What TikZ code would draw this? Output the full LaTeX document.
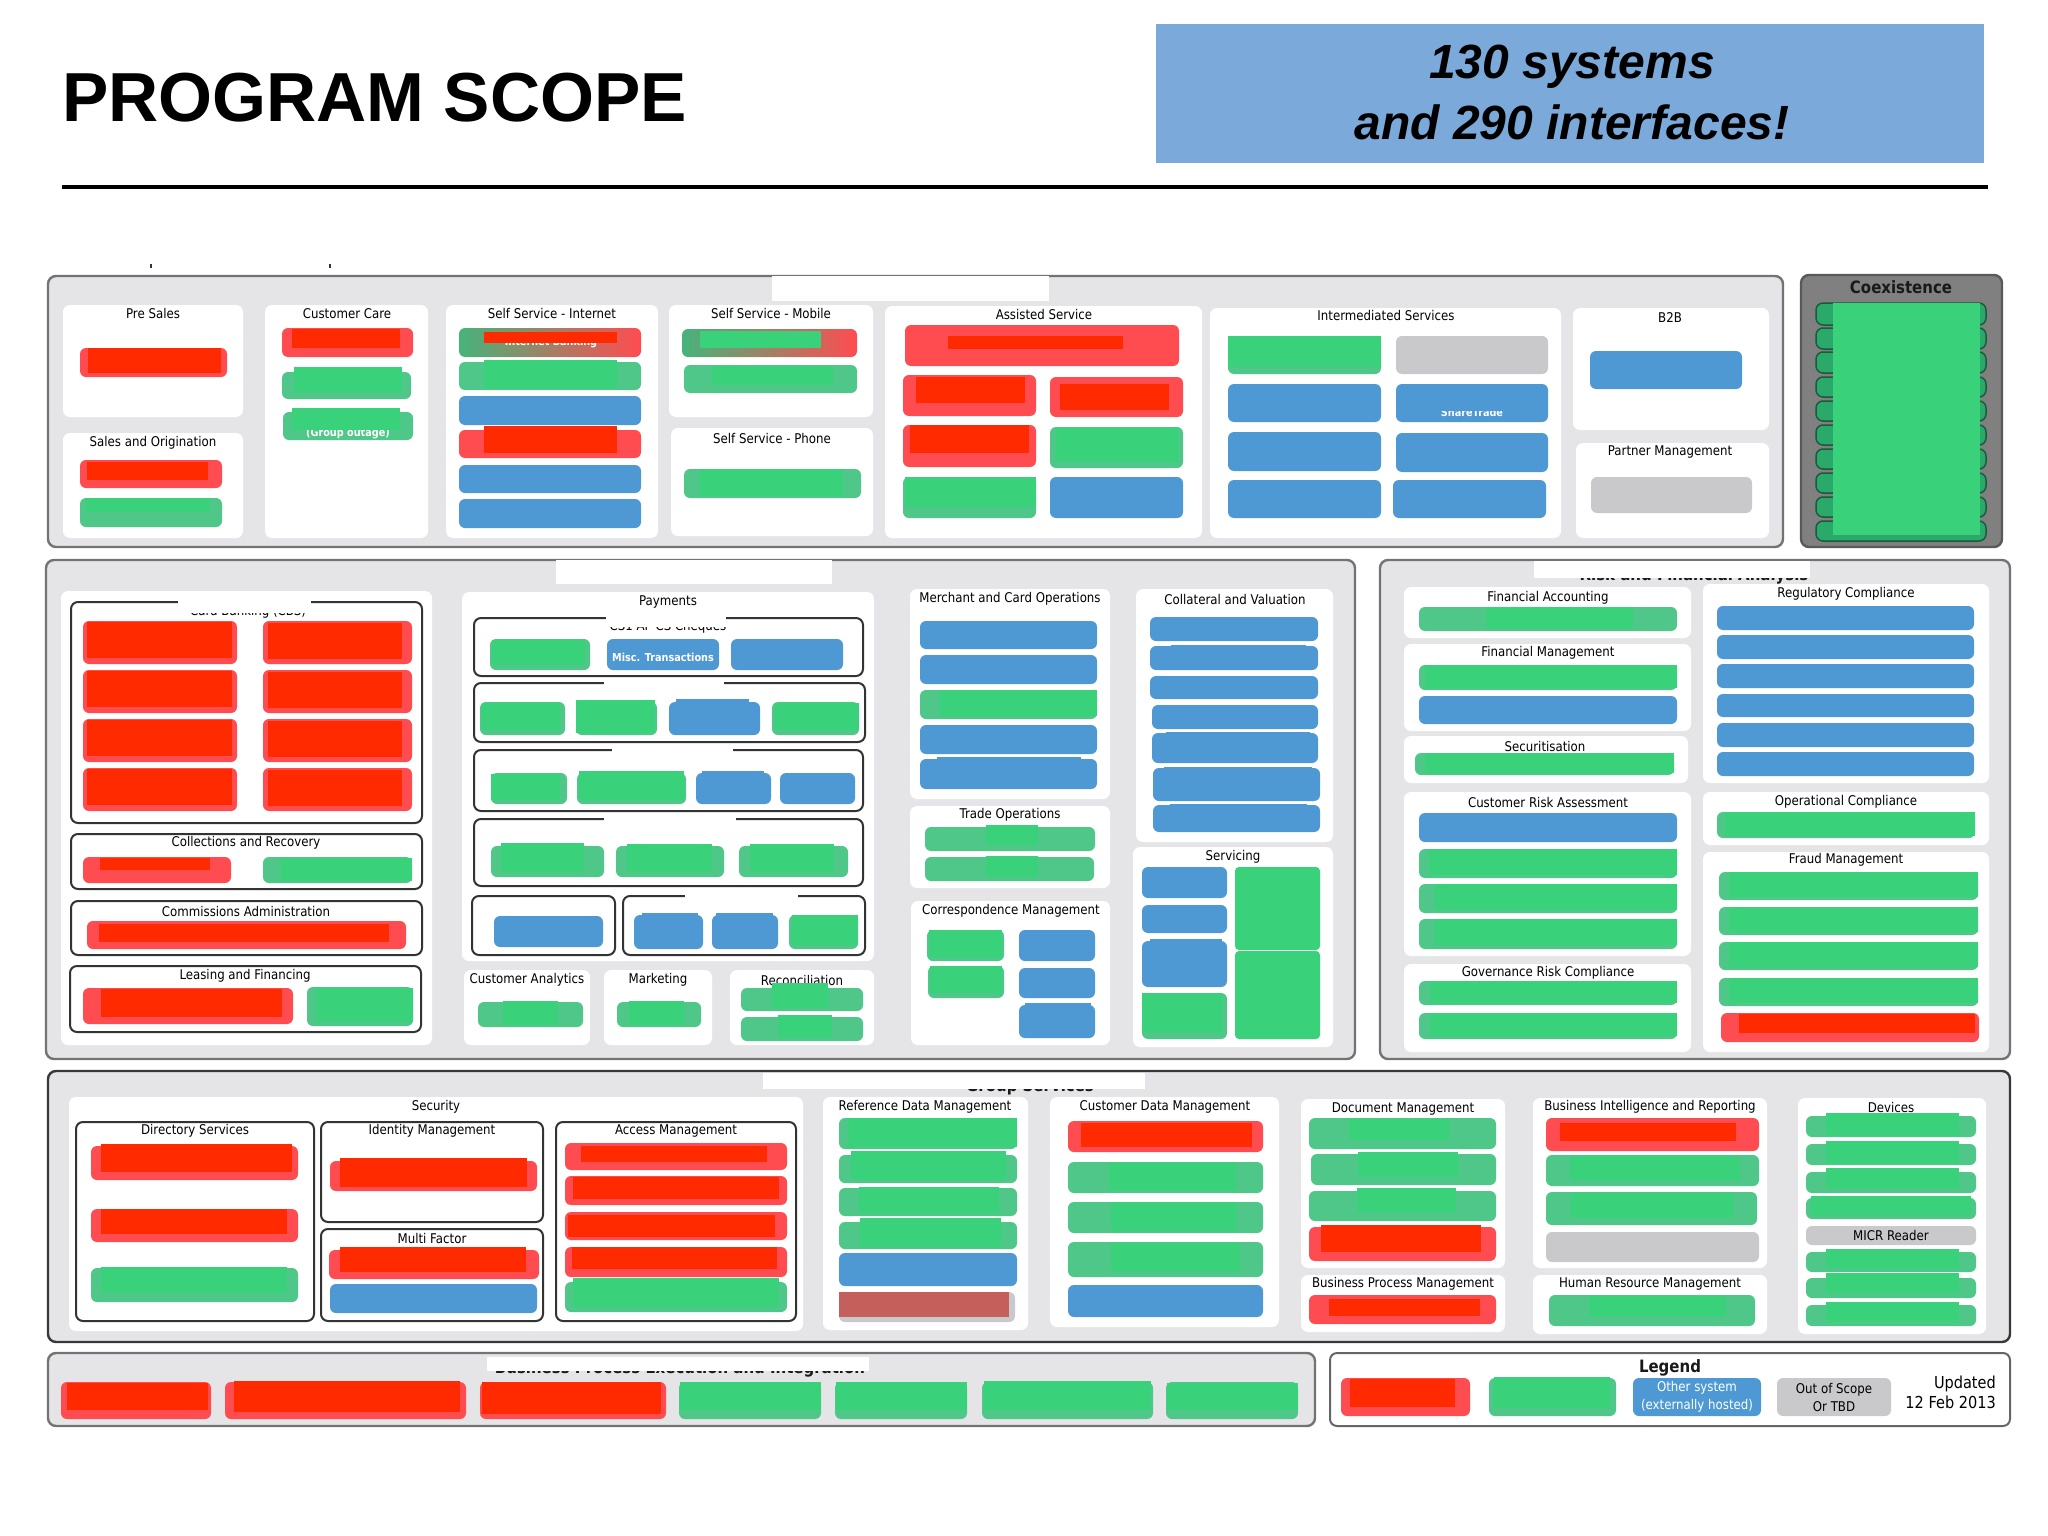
\documentclass[tikz,border=0pt]{standalone}
\usepackage{fontspec}
\setmainfont{Liberation Sans}
\newfontfamily\lblfont[FakeStretch=0.88]{DejaVu Sans}
\definecolor{panelgrey}{HTML}{E5E5E7}
\definecolor{redbase}{HTML}{FF4C50}
\definecolor{redover}{HTML}{FF2A00}
\definecolor{greenbase}{HTML}{4EC788}
\definecolor{greenover}{HTML}{39D27A}
\definecolor{bluebase}{HTML}{4E99D3}
\definecolor{greybase}{HTML}{C9C8CA}
\definecolor{headblue}{HTML}{7BA9D9}
\definecolor{tabgreen}{HTML}{2BA96B}
\definecolor{tabedge}{HTML}{1C5A3C}
\definecolor{brownred}{HTML}{C45F5B}
\tikzset{
  rb/.style={fill=redbase,rounded corners=6pt},
  gb/.style={fill=greenbase,rounded corners=6pt},
  bb/.style={fill=bluebase,rounded corners=6pt},
  yb/.style={fill=greybase,rounded corners=6pt},
  ro/.style={fill=redover},
  go/.style={fill=greenover},
  bo/.style={fill=bluebase},
  wh/.style={fill=white},
  card/.style={fill=white,rounded corners=7pt},
  panel/.style={fill=panelgrey,draw=black!55,line width=2.4pt,rounded corners=8pt},
  darkpanel/.style={fill=panelgrey,draw=black!78,line width=2.4pt,rounded corners=8pt},
  inbox/.style={fill=white,draw=black!80,line width=2pt,rounded corners=7pt},
  lbl/.style={font=\lblfont\fontsize{13.4}{15}\selectfont,text=black,inner sep=0pt},
  blbl/.style={font=\lblfont\bfseries\fontsize{17}{19}\selectfont,text=black!90,inner sep=0pt},
  wlbl/.style={font=\lblfont\fontsize{13.4}{18}\selectfont,text=white,inner sep=0pt,align=center},
  tiny/.style={font=\lblfont\bfseries\fontsize{11}{13}\selectfont,text=white,inner sep=0pt},
}
\newcommand\itm[5]{\path[#1] (#2,#3) rectangle (#4,#5);}
\newcommand\lab[4]{\node[lbl] (#1) at (#2,#3) {#4};}
\begin{document}
\begin{tikzpicture}[x=1pt,y=-1pt]
\useasboundingbox (0,0) rectangle (2048,1536);
\fill[white] (0,0) rectangle (2048,1536);
% header
\node[anchor=base west,inner sep=0pt,font=\bfseries\fontsize{69.4}{70}\selectfont] (title) at (62,122) {PROGRAM SCOPE};
\fill[headblue] (1156,24) rectangle (1984,163);
\node[inner sep=0pt,align=center,font=\bfseries\itshape\fontsize{48}{61}\selectfont] (claim) at (1572,92) {130 systems\\and 290 interfaces!};
\draw[line width=3.5pt] (62,187) -- (1988,187);
\fill[black!80] (150,264) rectangle (152,268);
\fill[black!80] (329,264) rectangle (331,268);

% ---------- top panel
\path[panel] (48,276) rectangle (1783,547);
\itm{wh}{772}{276}{1049}{301}
\itm{card}{63}{305}{243}{417}
\itm{card}{63}{433}{243}{538}
\itm{card}{265}{305}{428}{538}
\itm{card}{446}{305}{658}{538}
\itm{card}{669}{305}{873}{417}
\itm{card}{671}{428}{873}{536}
\itm{card}{885}{306}{1202}{538}
\itm{card}{1210}{308}{1561}{538}
\itm{card}{1573}{308}{1769}{430}
\itm{card}{1576}{443}{1769}{538}
\lab{presales}{153}{314}{Pre Sales}
\lab{salesorig}{153}{443}{Sales and Origination}
\lab{custcare}{347}{314}{Customer Care}
\lab{ssinternet}{552}{314}{Self Service - Internet}
\lab{ssmobile}{771}{314}{Self Service - Mobile}
\lab{ssphone}{772}{439}{Self Service - Phone}
\lab{assisted}{1044}{315}{Assisted Service}
\lab{intermed}{1386}{316}{Intermediated Services}
\lab{btob}{1670}{318}{B2B}
\lab{partner}{1670}{452}{Partner Management}
% pre sales / sales
\itm{rb}{80}{348}{227}{377}\itm{ro}{88}{348}{221}{373}
\itm{rb}{80}{460}{222}{488}\itm{ro}{87}{462}{208}{480}
\itm{gb}{80}{498}{222}{527}\itm{go}{86}{498}{210}{512}
% care
\itm{rb}{282}{328}{413}{357}\itm{ro}{292}{329}{400}{348}
\itm{gb}{282}{372}{411}{399}\itm{go}{294}{367}{402}{392}
\itm{gb}{283}{412}{413}{440}\node[tiny] (grpout) at (348,434) {(Group outage)};\itm{go}{292}{408}{400}{430}
% internet
\path[left color=greenbase!90!black,right color=redbase,rounded corners=6pt] (459,328) rectangle (641,357);
\node[tiny] (netbank) at (551,343) {Internet Banking};\itm{ro}{484}{332}{617}{343}
\itm{gb}{459}{362}{641}{390}\itm{go}{484}{360}{617}{388}
\itm{bb}{459}{396}{641}{425}
\itm{rb}{459}{430}{641}{458}\itm{ro}{484}{426}{617}{453}
\itm{bb}{459}{465}{641}{493}
\itm{bb}{459}{499}{641}{528}
% mobile / phone
\path[left color=greenbase!90!black,right color=redbase,rounded corners=6pt] (682,329) rectangle (857,357);
\itm{go}{700}{331}{821}{348}
\itm{gb}{684}{365}{857}{393}\itm{go}{712}{366}{833}{385}
\itm{gb}{684}{469}{861}{498}\itm{go}{700}{469}{843}{496}
% assisted
\itm{rb}{905}{325}{1179}{366}\itm{ro}{948}{336}{1123}{349}
\itm{rb}{903}{375}{1036}{416}\itm{ro}{916}{377}{1025}{403}
\itm{rb}{1050}{377}{1183}{417}\itm{ro}{1060}{384}{1169}{410}
\itm{rb}{903}{425}{1036}{467}\itm{ro}{910}{425}{1029}{453}
\itm{gb}{1050}{427}{1183}{468}\itm{go}{1056}{428}{1178}{462}
\itm{gb}{903}{477}{1036}{518}\itm{go}{905}{477}{1036}{507}
\itm{bb}{1050}{477}{1183}{518}
% intermediated
\itm{gb}{1228}{336}{1381}{374}\itm{go}{1228}{336}{1381}{367}
\itm{yb}{1396}{336}{1548}{374}
\itm{bb}{1228}{384}{1381}{422}\itm{bb}{1396}{384}{1548}{422}
\node[tiny] (sharetrade) at (1472,412) {ShareTrade};\itm{bo}{1420}{392}{1525}{411}
\itm{bb}{1228}{432}{1381}{471}\itm{bb}{1396}{433}{1548}{472}
\itm{bb}{1228}{480}{1381}{518}\itm{bb}{1393}{480}{1546}{518}
\itm{bb}{1590}{351}{1742}{389}
\itm{yb}{1591}{477}{1752}{513}
% coexistence
\path[fill=black!50,draw=black!65,line width=2.4pt,rounded corners=8pt] (1801,275) rectangle (2002,547);
\node[blbl] (coex) at (1901,287) {Coexistence};
\foreach \ya/\yb in {303/325,328/349,352/373,377/397,401/421,425/445,449/469,473/493,497/517,521/541}{
  \path[fill=tabgreen,draw=tabedge,line width=1.5pt,rounded corners=7pt] (1816,\ya) rectangle (1986,\yb);}
\fill[greenover] (1833,303) rectangle (1980,535);

% ---------- middle left panel
\path[panel] (46,560) rectangle (1355,1059);
\itm{wh}{556}{560}{832}{584}
\itm{card}{61}{591}{432}{1045}
\itm{card}{462}{592}{874}{961}
\itm{card}{464}{970}{590}{1045}
\itm{card}{604}{970}{712}{1045}
\itm{card}{730}{970}{874}{1045}
\itm{card}{910}{589}{1110}{799}
\itm{card}{910}{806}{1110}{888}
\itm{card}{911}{901}{1110}{1045}
\itm{card}{1136}{589}{1333}{842}
\itm{card}{1133}{847}{1333}{1047}
% card banking
\path[inbox] (71,602) rectangle (422,823);
\node[lbl] (cardbank) at (248,612) {Card Banking (CBS)};
\itm{wh}{178}{598}{311}{613}
\foreach \ya/\yb in {621/664,670/713,719/762,768/811}{
  \path[rb] (83,\ya) rectangle (237,\yb);
  \path[rb] (263,\ya) rectangle (412,\yb);
  \path[ro] (87,\ya+1) rectangle (232,\yb-6);
  \path[ro] (268,\ya+2) rectangle (402,\yb-5);}
\path[inbox] (71,834) rectangle (422,889);
\lab{collect}{246}{843}{Collections and Recovery}
\itm{rb}{83}{857}{231}{883}\itm{ro}{100}{858}{210}{870}
\itm{gb}{263}{857}{412}{883}\itm{go}{281}{858}{412}{881}
\path[inbox] (71,901) rectangle (422,955);
\lab{commis}{246}{911}{Commissions Administration}
\itm{rb}{87}{921}{406}{949}\itm{ro}{99}{924}{389}{942}
\path[inbox] (70,966) rectangle (421,1032);
\lab{leasing}{245}{976}{Leasing and Financing}
\itm{rb}{83}{988}{293}{1024}\itm{ro}{101}{989}{282}{1017}
\itm{gb}{307}{987}{413}{1026}\itm{go}{316}{988}{413}{1022}
% payments
\lab{payments}{668}{602}{Payments}
\path[inbox] (474,618) rectangle (863,676);
\node[lbl] (chq) at (668,627) {CS1 AP CS Cheques};
\itm{wh}{606}{612}{726}{627}
\itm{gb}{490}{639}{590}{670}\itm{go}{492}{640}{585}{665}
\itm{bb}{607}{639}{719}{670}\node[tiny] (misc) at (663,657) {Misc. Transactions};
\itm{bb}{731}{639}{843}{670}
\path[inbox] (474,683) rectangle (865,742);
\itm{wh}{604}{678}{724}{700}
\itm{gb}{480}{702}{565}{735}\itm{go}{482}{703}{560}{730}
\itm{gb}{576}{702}{657}{735}\itm{go}{576}{700}{655}{733}
\itm{bb}{669}{702}{760}{735}\itm{bo}{676}{699}{749}{725}
\itm{gb}{772}{702}{859}{735}\itm{go}{775}{703}{859}{730}
\path[inbox] (474,750) rectangle (863,811);
\itm{wh}{612}{746}{733}{766}
\itm{gb}{491}{773}{567}{804}\itm{go}{491}{774}{560}{800}
\itm{gb}{577}{773}{686}{804}\itm{go}{579}{771}{684}{800}
\itm{bb}{696}{773}{771}{804}\itm{bo}{702}{771}{764}{790}
\itm{bb}{780}{773}{855}{804}
\path[inbox] (474,819) rectangle (863,886);
\itm{wh}{604}{815}{736}{840}
\itm{gb}{491}{846}{604}{877}\itm{go}{501}{843}{584}{872}
\itm{gb}{616}{846}{724}{877}\itm{go}{627}{844}{712}{872}
\itm{gb}{739}{846}{848}{877}\itm{go}{750}{844}{834}{872}
\path[inbox] (472,896) rectangle (615,955);
\itm{bb}{494}{916}{603}{947}
\path[inbox] (623,896) rectangle (865,955);
\itm{wh}{685}{892}{798}{906}
\itm{bb}{634}{915}{703}{949}\itm{bo}{642}{913}{698}{935}
\itm{bb}{712}{915}{778}{949}\itm{bo}{716}{913}{773}{935}
\itm{gb}{789}{915}{858}{949}\itm{go}{792}{915}{858}{945}
% analytics etc.
\lab{custanal}{527}{980}{Customer Analytics}
\itm{gb}{478}{1002}{583}{1027}\itm{go}{503}{1001}{558}{1025}
\lab{marketing}{658}{980}{Marketing}
\itm{gb}{617}{1002}{701}{1027}\itm{go}{629}{1001}{684}{1025}
\lab{recon}{802}{980}{Reconciliation}
\itm{gb}{741}{988}{863}{1011}\itm{go}{772}{983}{828}{1008}
\itm{gb}{741}{1017}{863}{1041}\itm{go}{778}{1015}{832}{1038}
% merchant
\lab{merchant}{1010}{599}{Merchant and Card Operations}
\itm{bb}{920}{621}{1097}{649}\itm{bb}{920}{655}{1097}{684}
\itm{gb}{920}{690}{1097}{719}\itm{go}{940}{690}{1097}{716}
\itm{bb}{920}{725}{1097}{754}\itm{bb}{920}{759}{1097}{789}\itm{bo}{937}{757}{1081}{780}
\lab{trade}{1010}{815}{Trade Operations}
\itm{gb}{925}{827}{1095}{851}\itm{go}{986}{825}{1038}{845}
\itm{gb}{925}{857}{1094}{881}\itm{go}{986}{856}{1038}{877}
\lab{corresp}{1011}{911}{Correspondence Management}
\itm{gb}{927}{930}{1004}{961}\itm{go}{929}{930}{1002}{958}
\itm{bb}{1019}{930}{1095}{961}
\itm{gb}{928}{966}{1004}{998}\itm{go}{930}{966}{1002}{993}
\itm{bb}{1019}{968}{1095}{998}
\itm{bb}{1019}{1005}{1095}{1038}\itm{bo}{1025}{1003}{1091}{1025}
% collateral
\lab{collat}{1235}{599}{Collateral and Valuation}
\itm{bb}{1150}{617}{1318}{641}\itm{bb}{1150}{646}{1318}{670}\itm{bo}{1171}{645}{1306}{660}
\itm{bb}{1150}{676}{1318}{699}\itm{bb}{1152}{705}{1318}{729}
\itm{bb}{1152}{733}{1318}{763}\itm{bo}{1166}{732}{1310}{750}
\itm{bb}{1153}{768}{1320}{801}\itm{bo}{1164}{767}{1312}{790}
\itm{bb}{1153}{805}{1320}{832}\itm{bo}{1170}{804}{1307}{820}
% servicing
\lab{servicing}{1233}{857}{Servicing}
\itm{bb}{1142}{867}{1227}{898}
\itm{bb}{1142}{905}{1227}{933}
\itm{bb}{1142}{941}{1227}{987}\itm{bo}{1150}{939}{1222}{975}
\itm{gb}{1142}{993}{1227}{1039}\itm{go}{1142}{993}{1222}{1032}
\path[fill=greenover,rounded corners=4pt] (1235,867) rectangle (1320,950);
\path[fill=greenover,rounded corners=4pt] (1235,951) rectangle (1320,1039);

% ---------- risk panel
\path[panel] (1380,560) rectangle (2010,1059);
\node[blbl] (riskfin) at (1694,576) {Risk and Financial Analysis};
\itm{wh}{1534}{561}{1810}{578}
\itm{card}{1404}{587}{1691}{638}
\itm{card}{1404}{644}{1691}{731}
\itm{card}{1404}{736}{1688}{783}
\itm{card}{1404}{792}{1691}{956}
\itm{card}{1404}{964}{1691}{1052}
\itm{card}{1703}{584}{1989}{783}
\itm{card}{1703}{792}{1989}{845}
\itm{card}{1703}{852}{1989}{1052}
\lab{finacc}{1548}{598}{Financial Accounting}
\itm{gb}{1419}{607}{1677}{631}\itm{go}{1486}{607}{1633}{628}
\lab{finman}{1548}{653}{Financial Management}
\itm{gb}{1419}{665}{1677}{690}\itm{go}{1425}{665}{1677}{688}
\itm{bb}{1419}{696}{1677}{724}
\lab{secur}{1545}{746}{Securitisation}
\itm{gb}{1415}{753}{1674}{775}\itm{go}{1425}{753}{1674}{773}
\lab{custrisk}{1548}{802}{Customer Risk Assessment}
\itm{bb}{1419}{813}{1677}{842}
\itm{gb}{1419}{849}{1677}{878}\itm{go}{1429}{849}{1677}{875}
\itm{gb}{1419}{884}{1677}{913}\itm{go}{1435}{884}{1677}{910}
\itm{gb}{1419}{919}{1677}{949}\itm{go}{1435}{919}{1677}{945}
\lab{govern}{1548}{973}{Governance Risk Compliance}
\itm{gb}{1419}{981}{1677}{1005}\itm{go}{1430}{981}{1677}{1003}
\itm{gb}{1419}{1013}{1677}{1039}\itm{go}{1430}{1013}{1677}{1036}
\lab{regcomp}{1846}{594}{Regulatory Compliance}
\foreach \ya/\yb in {606/630,635/659,664/688,694/717,723/747,752/776}{\itm{bb}{1717}{\ya}{1974}{\yb}}
\lab{opcomp}{1846}{802}{Operational Compliance}
\itm{gb}{1717}{812}{1975}{838}\itm{go}{1725}{812}{1975}{836}
\lab{fraud}{1846}{860}{Fraud Management}
\foreach \ya/\yb in {872/900,907/935,942/970,978/1006}{\itm{gb}{1719}{\ya}{1978}{\yb}\path[go] (1729,\ya) rectangle (1978,\yb-3);}
\itm{rb}{1721}{1013}{1979}{1042}\itm{ro}{1739}{1014}{1975}{1033}

% ---------- group services
\path[darkpanel] (48,1071) rectangle (2010,1342);
\node[blbl] (groupsvc) at (1030,1087) {Group Services};
\itm{wh}{763}{1073}{1145}{1089}
\itm{card}{69}{1097}{803}{1331}
\itm{card}{823}{1097}{1028}{1330}
\itm{card}{1050}{1097}{1279}{1327}
\itm{card}{1301}{1099}{1505}{1268}
\itm{card}{1301}{1275}{1505}{1332}
\itm{card}{1533}{1098}{1767}{1268}
\itm{card}{1533}{1275}{1767}{1334}
\itm{card}{1798}{1098}{1986}{1334}
\lab{security}{436}{1107}{Security}
\path[inbox] (76,1122) rectangle (314,1321);
\lab{direct}{195}{1131}{Directory Services}
\itm{rb}{91}{1146}{298}{1180}\itm{ro}{101}{1144}{292}{1172}
\itm{rb}{91}{1209}{298}{1242}\itm{ro}{101}{1209}{287}{1234}
\itm{gb}{91}{1268}{298}{1302}\itm{go}{101}{1267}{287}{1293}
\path[inbox] (321,1122) rectangle (543,1222);
\lab{identity}{432}{1131}{Identity Management}
\itm{rb}{330}{1161}{537}{1191}\itm{ro}{340}{1158}{527}{1187}
\path[inbox] (321,1229) rectangle (543,1321);
\lab{multifac}{432}{1238}{Multi Factor}
\itm{rb}{329}{1250}{539}{1279}\itm{ro}{340}{1247}{526}{1272}
\itm{bb}{330}{1284}{537}{1313}
\path[inbox] (556,1122) rectangle (796,1321);
\lab{access}{676}{1131}{Access Management}
\itm{rb}{565}{1143}{787}{1170}\itm{ro}{581}{1146}{767}{1162}
\itm{rb}{565}{1176}{787}{1205}\itm{ro}{573}{1177}{779}{1199}
\itm{rb}{565}{1212}{787}{1240}\itm{ro}{568}{1215}{775}{1237}
\itm{rb}{565}{1247}{787}{1277}\itm{ro}{572}{1247}{777}{1269}
\itm{gb}{565}{1282}{787}{1312}\itm{go}{573}{1278}{779}{1307}
% reference data
\lab{refdata}{925}{1107}{Reference Data Management}
\itm{gb}{839}{1118}{1017}{1149}\itm{go}{848}{1118}{1017}{1147}
\itm{gb}{839}{1155}{1017}{1183}\itm{go}{851}{1151}{1006}{1180}
\itm{gb}{839}{1188}{1017}{1216}\itm{go}{859}{1187}{999}{1213}
\itm{gb}{839}{1222}{1017}{1249}\itm{go}{860}{1218}{1001}{1247}
\itm{bb}{839}{1253}{1017}{1286}
\itm{yb}{839}{1292}{1015}{1322}\fill[brownred] (839,1292) rectangle (1009,1317);
% customer data
\lab{custdata}{1165}{1107}{Customer Data Management}
\itm{rb}{1068}{1121}{1263}{1152}\itm{ro}{1081}{1123}{1252}{1147}
\itm{gb}{1068}{1162}{1263}{1193}\itm{go}{1109}{1163}{1236}{1190}
\itm{gb}{1068}{1202}{1263}{1233}\itm{go}{1111}{1202}{1236}{1231}
\itm{gb}{1068}{1242}{1263}{1277}\itm{go}{1111}{1243}{1240}{1271}
\itm{bb}{1068}{1285}{1263}{1317}
% document
\lab{docman}{1403}{1109}{Document Management}
\itm{gb}{1309}{1118}{1496}{1149}\itm{go}{1349}{1119}{1449}{1140}
\itm{gb}{1311}{1154}{1496}{1185}\itm{go}{1358}{1152}{1458}{1177}
\itm{gb}{1309}{1191}{1496}{1221}\itm{go}{1357}{1188}{1456}{1212}
\itm{rb}{1309}{1227}{1496}{1261}\itm{ro}{1321}{1225}{1481}{1252}
\lab{bpm}{1403}{1284}{Business Process Management}
\itm{rb}{1309}{1295}{1496}{1324}\itm{ro}{1329}{1299}{1480}{1316}
% BI
\lab{bireport}{1650}{1107}{Business Intelligence and Reporting}
\itm{rb}{1546}{1118}{1759}{1151}\itm{ro}{1560}{1123}{1736}{1141}
\itm{gb}{1546}{1155}{1759}{1186}\itm{go}{1570}{1156}{1740}{1180}
\itm{gb}{1546}{1192}{1757}{1225}\itm{go}{1571}{1193}{1733}{1218}
\itm{yb}{1546}{1232}{1759}{1262}
\lab{hrman}{1650}{1284}{Human Resource Management}
\itm{gb}{1549}{1295}{1755}{1326}\itm{go}{1589}{1296}{1726}{1316}
% devices
\lab{devices}{1891}{1107}{Devices}
\foreach \ya/\yb/\oa/\ob in {1116/1137/1113/1135,1144/1165/1141/1163,1172/1193/1168/1188,1252/1272/1249/1268,1278/1298/1273/1293,1305/1326/1302/1322}{
  \itm{gb}{1806}{\ya}{1976}{\yb}\itm{go}{1826}{\oa}{1959}{\ob}}
\itm{gb}{1806}{1198}{1976}{1219}\itm{go}{1811}{1196}{1971}{1215}
\itm{yb}{1806}{1226}{1976}{1245}
\lab{micr}{1891}{1235}{MICR Reader}

% ---------- bottom left
\path[panel] (48,1353) rectangle (1315,1426);
\node[blbl] (bpei) at (680,1369) {Business Process Execution and Integration};
\itm{wh}{487}{1357}{869}{1371}
\itm{rb}{61}{1382}{211}{1419}\itm{ro}{67}{1383}{208}{1410}
\itm{rb}{225}{1382}{466}{1419}\itm{ro}{234}{1381}{460}{1412}
\itm{rb}{480}{1382}{666}{1419}\itm{ro}{482}{1382}{661}{1414}
\itm{gb}{679}{1382}{821}{1419}\itm{go}{680}{1382}{821}{1410}
\itm{gb}{835}{1382}{967}{1419}\itm{go}{836}{1382}{967}{1410}
\itm{gb}{982}{1382}{1153}{1419}\itm{go}{984}{1381}{1151}{1410}
\itm{gb}{1166}{1382}{1298}{1419}\itm{go}{1167}{1383}{1298}{1410}

% ---------- legend
\path[inbox,draw=black!60] (1330,1353) rectangle (2010,1426);
\node[blbl] (legend) at (1670,1368) {Legend};
\itm{rb}{1341}{1378}{1470}{1416}\itm{ro}{1350}{1379}{1455}{1407}
\itm{gb}{1489}{1378}{1616}{1416}\itm{go}{1494}{1377}{1610}{1408}
\path[bb] (1633,1378) rectangle (1761,1416);
\node[wlbl] (other) at (1697,1397) {Other system\\(externally hosted)};
\path[yb] (1777,1378) rectangle (1891,1416);
\node[lbl,align=center,font=\lblfont\fontsize{13.4}{18}\selectfont] (oos) at (1834,1397) {Out of Scope\\Or TBD};
\node[lbl,anchor=east,font=\lblfont\fontsize{16.5}{18}\selectfont] (upd) at (1996,1384) {Updated};
\node[lbl,anchor=east,font=\lblfont\fontsize{16.5}{18}\selectfont] (upddate) at (1996,1402) {12 Feb 2013};
\end{tikzpicture}
\end{document}
